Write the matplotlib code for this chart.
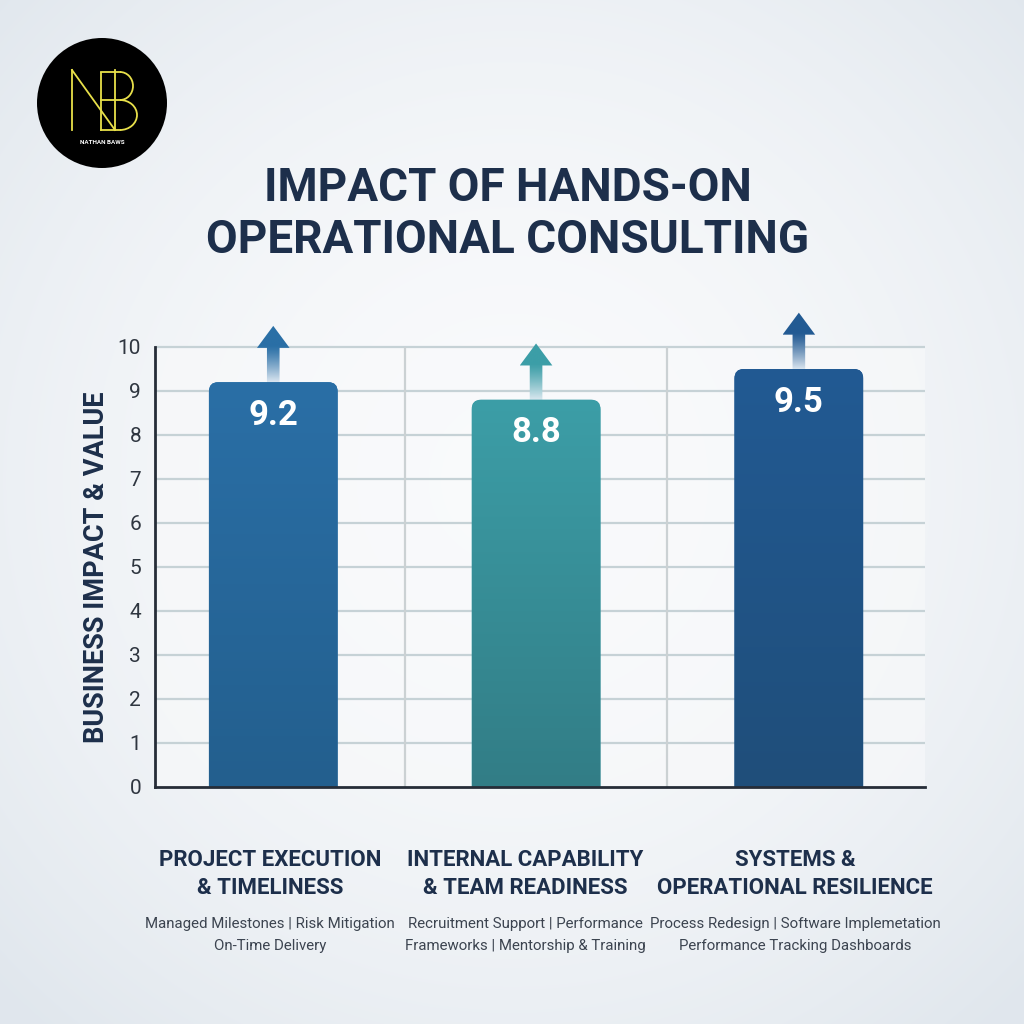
import numpy as np
import matplotlib
matplotlib.use('Agg')
import matplotlib.pyplot as plt
from matplotlib.patches import FancyBboxPatch, Circle, Polygon, Arc, Rectangle

plt.rcParams['font.family'] = ['Roboto', 'DejaVu Sans']

# data
categories = ['PROJECT EXECUTION\n& TIMELINESS',
              'INTERNAL CAPABILITY\n& TEAM READINESS',
              'SYSTEMS &\nOPERATIONAL RESILIENCE']
details = ['Managed Milestones | Risk Mitigation\nOn-Time Delivery',
           'Recruitment Support | Performance\nFrameworks | Mentorship & Training',
           'Process Redesign | Software Implemetation\nPerformance Tracking Dashboards']
scores = [9.2, 8.8, 9.5]
yticks = list(range(0, 11))

bar_top = ['#2a6fa6', '#3c9ea7', '#225a93']
bar_bot = ['#235f8e', '#327d86', '#1f4e7a']
navy = '#1d2f4b'

fig = plt.figure(figsize=(10.24, 10.24), dpi=100)

# background gradient
bg = fig.add_axes([0, 0, 1, 1], zorder=0)
yy, xx = np.mgrid[0:1024, 0:1024]
r = np.sqrt((xx - 512) ** 2 + (yy - 480) ** 2) / 720
r = np.clip(r, 0, 1) ** 1.8
c0 = np.array([0.978, 0.982, 0.988])
c1 = np.array([0.88, 0.905, 0.93])
img = c0[None, None, :] + (c1 - c0)[None, None, :] * r[:, :, None]
bg.imshow(img, extent=[0, 1024, 1024, 0], aspect='auto')
bg.set_xlim(0, 1024)
bg.set_ylim(1024, 0)
bg.axis('off')

# main chart (extra headroom above 10 for the arrows)
ymax = 11
ax = fig.add_axes([155 / 1024, 1 - 787 / 1024, 770 / 1024, 484 / 1024], zorder=2)
ax.patch.set_alpha(0)
x = np.arange(len(scores))
ax.set_xlim(-0.45, 2.48)
ax.set_ylim(0, ymax)
ax.add_patch(Rectangle((-0.45, 0), 2.93, 10, fc='#f9fafb', alpha=0.6, ec='none', zorder=0.5))

ax.hlines(yticks[1:], -0.45, 2.48, color='#c6d2d6', lw=1.6, zorder=1)
ax.vlines([0.5, 1.5], 0, 10, color='#cbd1d3', lw=1.6, zorder=1)

bars = ax.bar(x, scores, width=0.49, color='none', zorder=3)
grad = np.linspace(0, 1, 256)[:, None]
for i, b in enumerate(bars):
    bx, bw, bh = b.get_x(), b.get_width(), b.get_height()
    patch = FancyBboxPatch((bx, -0.5), bw, bh + 0.5,
                           boxstyle='round,pad=0,rounding_size=0.035',
                           mutation_aspect=6.2, fc=bar_top[i], ec='none', zorder=3)
    ax.add_patch(patch)
    ct = np.array(matplotlib.colors.to_rgb(bar_top[i]))
    cb = np.array(matplotlib.colors.to_rgb(bar_bot[i]))
    gimg = ct[None, None, :] * (1 - grad[:, :, None]) + cb[None, None, :] * grad[:, :, None]
    im = ax.imshow(gimg, extent=[bx, bx + bw, 0, bh], aspect='auto', zorder=3.5)
    im.set_clip_path(patch)
    ax.text(b.get_x() + bw / 2, bh - 0.75, f'{scores[i]:.1f}', ha='center', va='center',
            color='white', fontsize=25, fontweight='bold', zorder=5)

    # upward arrow with fading shaft
    cx = bx + bw / 2
    y0 = bh - 0.05
    y1 = bh + 1.28
    hl, hw, sw = 0.5, 0.062, 0.024
    arr = Polygon([(cx - sw, y0), (cx - sw, y1 - hl), (cx - hw, y1 - hl), (cx, y1),
                   (cx + hw, y1 - hl), (cx + sw, y1 - hl), (cx + sw, y0)],
                  closed=True, fc='none', ec='none', zorder=2.5)
    ax.add_patch(arr)
    fade = np.linspace(0, 1, 256)[:, None]
    base = np.array(matplotlib.colors.to_rgb(bar_top[i]))
    light = np.array([0.9, 0.93, 0.96])
    w = np.clip((fade - 0.35) / 0.65, 0, 1) ** 1.2
    aimg = base[None, None, :] * (1 - w[:, :, None]) + light[None, None, :] * w[:, :, None]
    aim = ax.imshow(aimg, extent=[cx - hw, cx + hw, y0, y1], aspect='auto', zorder=2.5)
    aim.set_clip_path(arr)

ax.set_xticks([])
ax.set_yticks(yticks)
ax.tick_params(axis='y', length=0, pad=10, labelsize=15, labelcolor='#2f3640')
for s in ['top', 'right']:
    ax.spines[s].set_visible(False)
for s in ['left', 'bottom']:
    ax.spines[s].set_color('#262d38')
    ax.spines[s].set_linewidth(2)
    ax.spines[s].set_zorder(6)
ax.spines['left'].set_bounds(0, 10)
ax.set_ylabel('BUSINESS IMPACT & VALUE', fontsize=19.5, fontweight='bold', color=navy)
ax.yaxis.set_label_coords(-0.058, 5 / ymax)

# text overlay
ov = fig.add_axes([0, 0, 1, 1], zorder=3)
ov.set_xlim(0, 1024)
ov.set_ylim(1024, 0)
ov.axis('off')
ov.patch.set_alpha(0)

ov.text(508, 214, 'IMPACT OF HANDS-ON\nOPERATIONAL CONSULTING', ha='center', va='center',
        fontsize=33, fontweight='bold', color=navy, linespacing=1.25)

label_x = [270, 525, 795]
for lx, cat, det in zip(label_x, categories, details):
    ov.text(lx, 874, cat, ha='center', va='center', fontsize=16, fontweight='bold',
            color=navy, linespacing=1.35)
    ov.text(lx, 935, det, ha='center', va='center', fontsize=10.8, color='#3c4450',
            linespacing=1.65)

# logo
ov.add_patch(Circle((102, 103), 65, fc='black', ec='none'))
yel = '#e8e04a'
lw = 1.3
ov.plot([72, 72], [70, 130], color=yel, lw=lw)
ov.plot([72, 115], [70, 130], color=yel, lw=lw)
ov.plot([101, 101], [73, 130], color=yel, lw=lw)
ov.plot([115, 115], [70, 130], color=yel, lw=lw)
ov.plot([101, 120], [72, 72], color=yel, lw=lw)
ov.plot([101, 122], [100, 100], color=yel, lw=lw)
ov.plot([101, 120], [130, 130], color=yel, lw=lw)
ov.add_patch(Arc((120, 86), 26, 28, theta1=-90, theta2=90, color=yel, lw=lw))
ov.add_patch(Arc((120, 115), 34, 30, theta1=-90, theta2=90, color=yel, lw=lw))
ov.text(102, 143, 'NATHAN BAWS', ha='center', va='center', fontsize=4.5,
        fontweight='bold', color='white')

fig.savefig('out.png', dpi=100)
